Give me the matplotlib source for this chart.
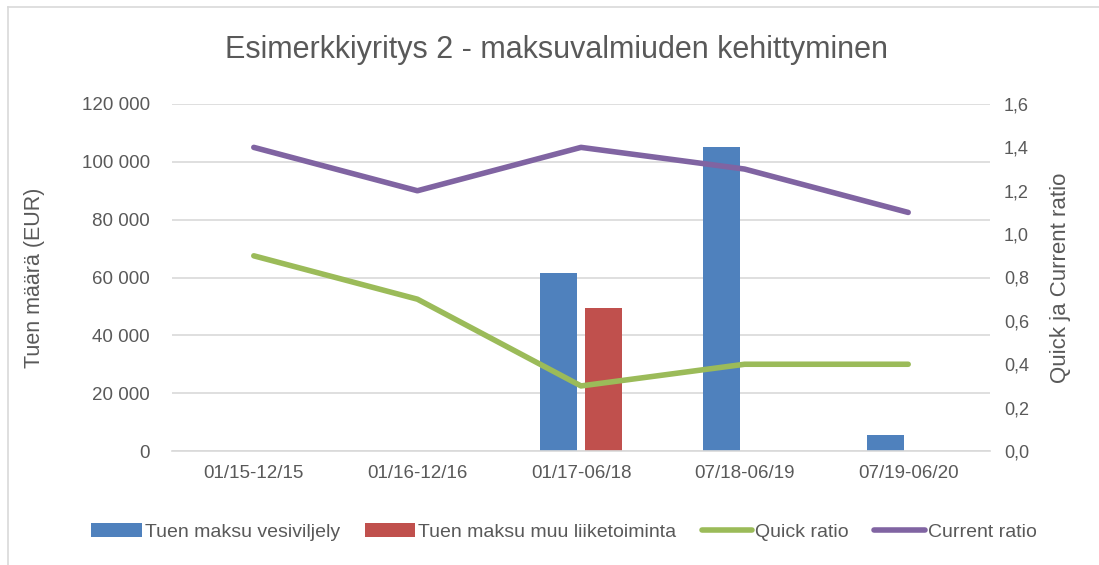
import matplotlib.pyplot as plt
import numpy as np
from matplotlib.ticker import FuncFormatter
from matplotlib.lines import Line2D

plt.rcParams['font.family'] = ['Liberation Sans Narrow', 'Liberation Sans', 'DejaVu Sans']

categories = ['01/15-12/15', '01/16-12/16', '01/17-06/18', '07/18-06/19', '07/19-06/20']
tuen_vesiviljely = [0, 0, 61500, 105000, 5500]
tuen_muu = [0, 0, 49500, 0, 0]
quick_ratio = [0.9, 0.7, 0.3, 0.4, 0.4]
current_ratio = [1.4, 1.2, 1.4, 1.3, 1.1]

txt = '#595959'
grid_c = '#d9d9d9'

fig = plt.figure(figsize=(10.99, 5.65), dpi=100)
ax = fig.add_axes([172/1099, 1 - 451/565, (990-172)/1099, (451-104)/565])
ax2 = ax.twinx()

x = np.arange(len(categories))
w = 0.225
ax.bar(x - 0.14, tuen_vesiviljely, w, color='#4f81bd', label='Tuen maksu vesiviljely', zorder=2)
ax.bar(x + 0.14, tuen_muu, w, color='#c0504d', label='Tuen maksu muu liiketoiminta', zorder=2)
ax2.plot(x, quick_ratio, color='#9bbb59', lw=4, label='Quick ratio', solid_capstyle='round')
ax2.plot(x, current_ratio, color='#8064a2', lw=4, label='Current ratio', solid_capstyle='round')

ax.set_xlim(-0.5, len(categories) - 0.5)
ax.set_ylim(0, 120000)
ax.set_yticks(np.arange(0, 120001, 20000))
ax.yaxis.set_major_formatter(FuncFormatter(lambda v, p: f'{int(v):,}'.replace(',', ' ')))
ax2.set_ylim(0, 1.6)
ax2.set_yticks(np.arange(0, 1.61, 0.2))
ax2.yaxis.set_major_formatter(FuncFormatter(lambda v, p: f'{v:.1f}'.replace('.', ',')))

ax.set_xticks(x)
ax.set_xticklabels(categories)
ax.grid(axis='y', color=grid_c, lw=1.2, zorder=0)
ax.set_axisbelow(True)
for a in (ax, ax2):
    for s in a.spines.values():
        s.set_visible(False)
    a.tick_params(length=0, colors=txt, labelsize=13.5)
ax.spines['bottom'].set_visible(True)
ax.spines['bottom'].set_color(grid_c)
ax.spines['bottom'].set_linewidth(1.2)
ax.tick_params(axis='x', pad=10)
ax.tick_params(axis='y', pad=16)
ax2.tick_params(axis='y', pad=10, labelsize=13)

ax.set_ylabel('Tuen määrä (EUR)', color=txt, fontsize=15.5)
ax2.set_ylabel('Quick ja Current ratio', color=txt, fontsize=16)
ax.yaxis.set_label_coords(-0.155, 0.5)
ax2.yaxis.set_label_coords(1.073, 0.5)

fig.text(0.506, 1 - 50/565, 'Esimerkkiyritys 2 - maksuvalmiuden kehittyminen',
         ha='center', va='center', fontsize=22, color=txt)

h1, l1 = ax.get_legend_handles_labels()
h2, l2 = ax2.get_legend_handles_labels()
fig.legend(h1 + h2, l1 + l2, loc='center', bbox_to_anchor=(0.513, 1 - 532/565), ncol=4,
           frameon=False, fontsize=14, labelcolor=txt, handlelength=2.6,
           handletextpad=0.15, columnspacing=1.3)

# chart frame (top and left edges visible)
fig.add_artist(Line2D([8/1099, 1], [1 - 7/565, 1 - 7/565], transform=fig.transFigure,
                      color=grid_c, lw=1.2))
fig.add_artist(Line2D([8/1099, 8/1099], [1 - 7/565, 0], transform=fig.transFigure,
                      color=grid_c, lw=1.2))

fig.savefig('out.png', dpi=100)
